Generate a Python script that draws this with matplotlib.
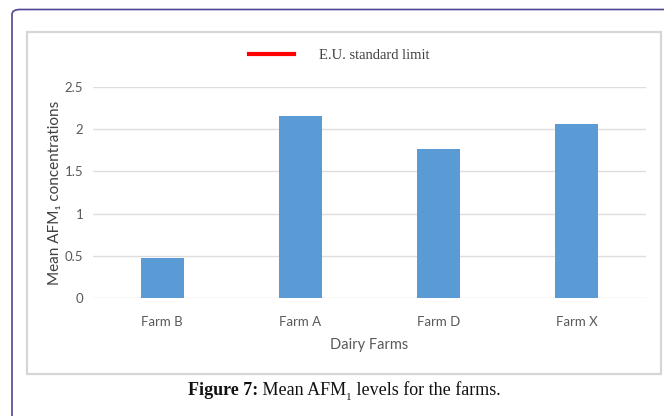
import matplotlib
matplotlib.use("Agg")
import matplotlib.pyplot as plt
from matplotlib.lines import Line2D
from matplotlib.patches import FancyBboxPatch, Rectangle

farms = ["Farm B", "Farm A", "Farm D", "Farm X"]
mean_afm1 = [0.47, 2.16, 1.77, 2.06]
y_ticks = [0, 0.5, 1, 1.5, 2, 2.5]
y_tick_labels = ["0", "0.5", "1", "1.5", "2", "2.5"]

W, H = 664, 416
fig = plt.figure(figsize=(W / 100, H / 100), dpi=100)
fig.patch.set_facecolor("white")

# outer rounded page border (runs off the right and bottom edges)
fig.patches.append(FancyBboxPatch((12 / W, -0.2), 1.2, 1 - 9.5 / H + 0.2,
                                  boxstyle="round,pad=0,rounding_size=0.012",
                                  transform=fig.transFigure, fill=False,
                                  edgecolor="#4e4594", linewidth=1.2))
# chart area frame
fig.patches.append(Rectangle((27 / W, 1 - 374 / H), (661 - 27) / W, (374 - 32) / H,
                             transform=fig.transFigure, fill=False,
                             edgecolor="#d6d6d6", linewidth=1.6))

ax = fig.add_axes([93 / W, 1 - 298 / H, (646 - 93) / W, (298 - 87) / H])
x = range(len(farms))
ax.bar(x, mean_afm1, width=0.31, color="#5b9bd5", zorder=3)
ax.set_xlim(-0.5, len(farms) - 0.5)
ax.set_ylim(0, 2.5)
ax.set_yticks(y_ticks)
ax.set_yticklabels(y_tick_labels)
ax.set_xticks(list(x))
ax.set_xticklabels(farms)
ax.grid(axis="y", color="#dedede", linewidth=1.0, zorder=0)
for s in ax.spines.values():
    s.set_visible(False)
ax.tick_params(length=0, colors="#595959", labelsize=9.5)
for lab in ax.get_xticklabels() + ax.get_yticklabels():
    lab.set_family("Lato")
ax.tick_params(axis="y", pad=7)
ax.tick_params(axis="x", pad=13)

ax.set_xlabel("Dairy Farms", family="Lato", fontsize=10.5, color="#595959", labelpad=7)
ax.set_ylabel("Mean AFM₁ concentrations", family=["Lato", "DejaVu Sans"],
              fontsize=11, color="#404040", labelpad=2)

handle = Line2D([], [], color="#ff0000", linewidth=3)
leg = fig.legend([handle], ["E.U. standard limit"], loc="center",
                 bbox_to_anchor=(339 / W, 1 - 55 / H), frameon=False,
                 handlelength=3.1, handletextpad=1.7,
                 prop={"family": "Liberation Serif", "size": 10.5})
for t in leg.get_texts():
    t.set_color("#404040")

# caption: bold label, regular text with a subscript digit
fig.canvas.draw()
renderer = fig.canvas.get_renderer()
cap_y = 1 - 395 / H
pieces = [("Figure 7:", "bold", 13, 0.0),
          (" Mean AFM", "normal", 13, 0.0),
          ("1", "normal", 8, -5.0),
          (" levels for the farms.", "normal", 13, 0.0)]
texts = []
for s, weight, size, dy in pieces:
    t = fig.text(0, cap_y, s, ha="left", va="baseline", family="Liberation Serif",
                 fontweight=weight, fontsize=size, color="#111111")
    texts.append((t, dy))
widths = [t.get_window_extent(renderer).width for t, _ in texts]
total = sum(widths)
cur = 344 - total / 2
for (t, dy), w in zip(texts, widths):
    t.set_position((cur / W, cap_y + dy / H))
    cur += w

fig.savefig("out.png", dpi=100)
